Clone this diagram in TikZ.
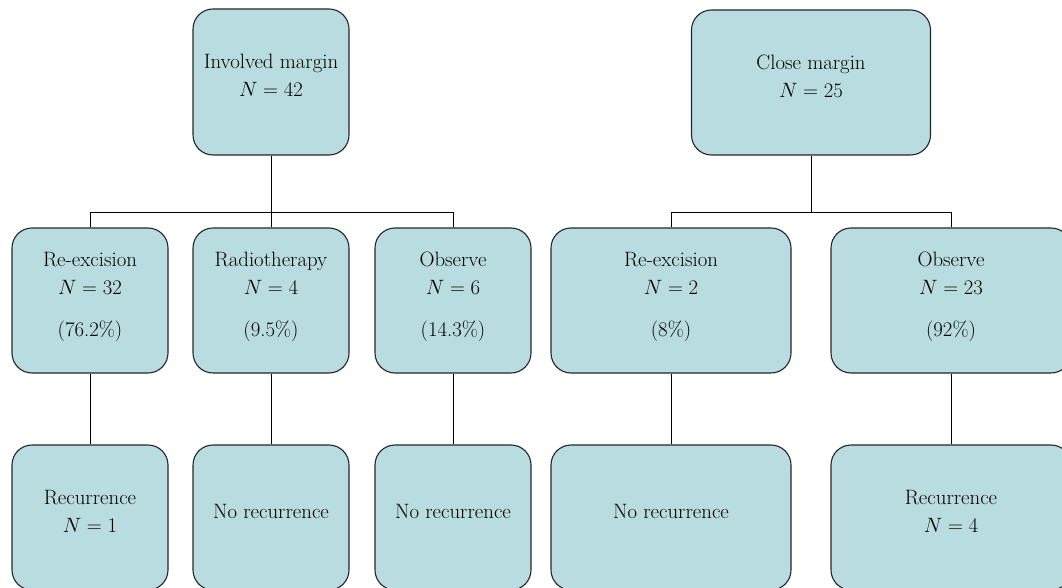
\documentclass[tikz,border=0pt]{standalone}
\usepackage{tikz}

\definecolor{boxfill}{RGB}{185,220,224}
% text of a box, set a little above its middle
\newcommand{\boxtext}[1]{\raisebox{5pt}[\height][\depth]{\begin{tabular}{@{}c@{}}#1\end{tabular}}}
\tikzset{
  box/.style={draw=black!85, line width=1.1pt, fill=boxfill, rounded corners=20pt,
    inner sep=0pt, font=\fontsize{20.8}{28}\selectfont},
  link/.style={draw=black, line width=1pt}
}

\begin{document}
\begin{tikzpicture}[x=1pt,y=-1pt]

\clip (0,0) rectangle (1062,588);
\fill[white] (0,0) rectangle (1062,588);

% top row
\node[box, minimum width=156pt, minimum height=146pt] (inv) at (271,82) {\boxtext{Involved margin\\$N = 42$}};
\node[box, minimum width=239pt, minimum height=145pt] (close) at (811,82.5) {\boxtext{Close margin\\$N = 25$}};

% middle row
\node[box, minimum width=156pt, minimum height=145pt] (reexc) at (90,300.5) {\boxtext{Re-excision\\$N = 32$\\[14pt](76.2\%)}};
\node[box, minimum width=156pt, minimum height=145pt] (radio) at (271,300.5) {\boxtext{Radiotherapy\\$N = 4$\\[14pt](9.5\%)}};
\node[box, minimum width=156pt, minimum height=145pt] (obs) at (453,300.5) {\boxtext{Observe\\$N = 6$\\[14pt](14.3\%)}};
\node[box, minimum width=240pt, minimum height=145pt] (reexcb) at (671,300.5) {\boxtext{Re-excision\\$N = 2$\\[14pt](8\%)}};
\node[box, minimum width=240pt, minimum height=145pt] (obsb) at (951,300.5) {\boxtext{Observe\\$N = 23$\\[14pt](92\%)}};

% bottom row
\node[box, minimum width=156pt, minimum height=145pt] (rec) at (90,517.5) {\boxtext{Recurrence\\$N = 1$}};
\node[box, minimum width=156pt, minimum height=145pt] (norec) at (271,517.5) {\boxtext{No recurrence}};
\node[box, minimum width=156pt, minimum height=145pt] (norecb) at (453,517.5) {\boxtext{No recurrence}};
\node[box, minimum width=240pt, minimum height=145pt] (norecc) at (671,517.5) {\boxtext{No recurrence}};
\node[box, minimum width=240pt, minimum height=145pt] (recb) at (951,517.5) {\boxtext{Recurrence\\$N = 4$}};

% branches
\coordinate (jl) at (271,212);
\coordinate (jr) at (811,212);
\draw[link] (inv.south) -- (radio.north);
\draw[link] (reexc.north) -- (reexc.north |- jl) -- (obs.north |- jl) -- (obs.north);
\draw[link] (close.south) -- (jr);
\draw[link] (reexcb.north) -- (reexcb.north |- jr) -- (obsb.north |- jr) -- (obsb.north);

% down to outcome
\draw[link] (reexc.south) -- (rec.north);
\draw[link] (radio.south) -- (norec.north);
\draw[link] (obs.south) -- (norecb.north);
\draw[link] (reexcb.south) -- (norecc.north);
\draw[link] (obsb.south) -- (recb.north);

\end{tikzpicture}
\end{document}
